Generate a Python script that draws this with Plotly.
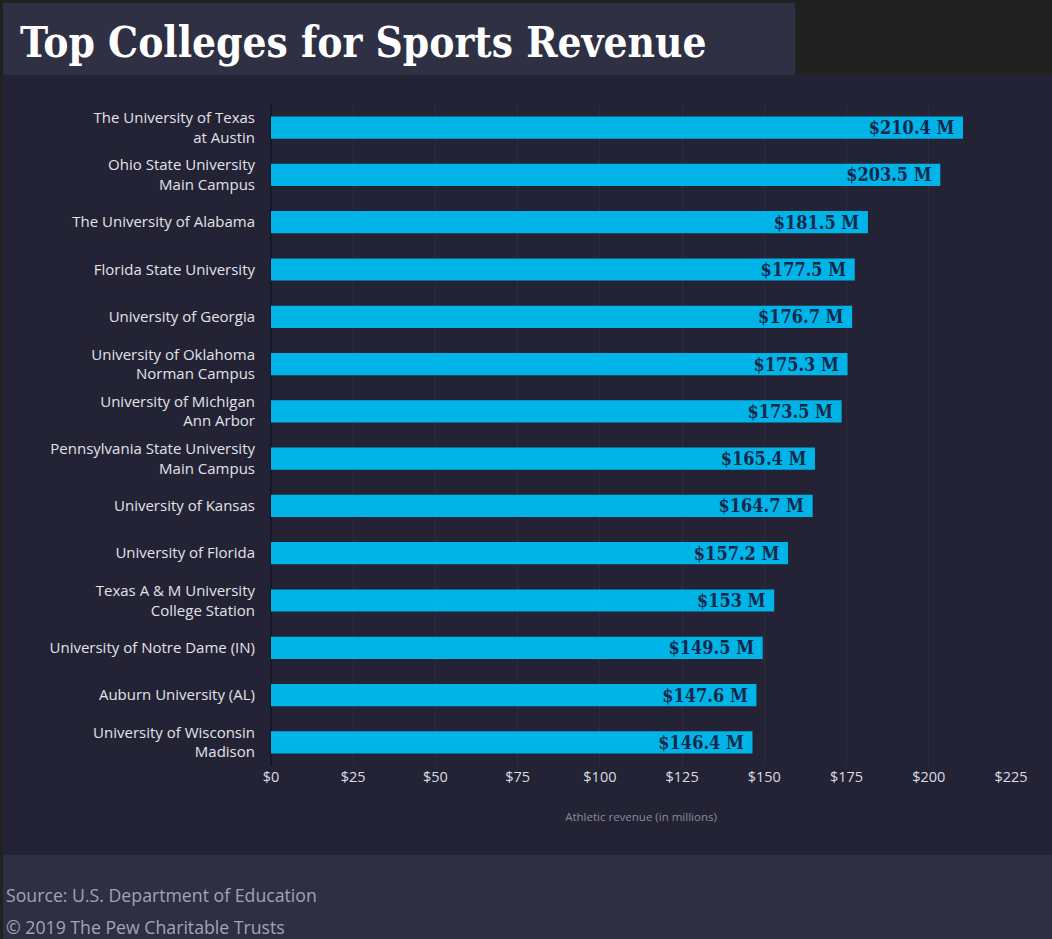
import plotly.graph_objects as go

colleges = [
    "The University of Texas<br>at Austin",
    "Ohio State University<br>Main Campus",
    "The University of Alabama",
    "Florida State University",
    "University of Georgia",
    "University of Oklahoma<br>Norman Campus",
    "University of Michigan<br>Ann Arbor",
    "Pennsylvania State University<br>Main Campus",
    "University of Kansas",
    "University of Florida",
    "Texas A & M University<br>College Station",
    "University of Notre Dame (IN)",
    "Auburn University (AL)",
    "University of Wisconsin<br>Madison",
]
revenue = [210.4, 203.5, 181.5, 177.5, 176.7, 175.3, 173.5, 165.4, 164.7, 157.2, 153, 149.5, 147.6, 146.4]
tick_values = [0, 25, 50, 75, 100, 125, 150, 175, 200, 225]
tick_labels = ["$" + str(v) for v in tick_values]
bar_labels = ["$" + f"{v:g}" + " M\u00a0" for v in revenue]

W, H = 1052, 939
L, R, T, B = 271, 41, 104, 173
PW, PH = W - L - R, H - T - B

def px_x(p):
    return (p - L) / PW

def px_y(p):
    return 1 - (p - T) / PH

fig = go.Figure(go.Bar(
    x=revenue, y=colleges, orientation="h",
    marker=dict(color="#00b4e8", line=dict(width=0)),
    width=0.47,
    text=bar_labels, textposition="inside", insidetextanchor="end",
    constraintext="none",
    textfont=dict(family="DejaVu Serif Condensed, DejaVu Serif", size=18, color="#16284a", weight="bold"),
    cliponaxis=False,
    hoverinfo="skip",
))

shapes = [
    dict(type="rect", xref="paper", yref="paper", x0=px_x(3), x1=px_x(W), y0=px_y(75), y1=px_y(855),
         fillcolor="#232335", line=dict(width=0), layer="below"),
    dict(type="rect", xref="paper", yref="paper", x0=px_x(3), x1=px_x(795), y0=px_y(3), y1=px_y(75),
         fillcolor="#2f3043", line=dict(width=0), layer="below"),
    dict(type="rect", xref="paper", yref="paper", x0=px_x(3), x1=px_x(W), y0=px_y(855), y1=px_y(H),
         fillcolor="#2e2f42", line=dict(width=0), layer="below"),
]

annotations = [
    dict(text="<b>Top Colleges for Sports Revenue</b>", xref="paper", yref="paper",
         x=px_x(18), y=px_y(42), xanchor="left", yanchor="middle", showarrow=False,
         font=dict(family="DejaVu Serif Condensed, DejaVu Serif", size=42, color="#ffffff")),
    dict(text="Source: U.S. Department of Education", xref="paper", yref="paper",
         x=px_x(4), y=px_y(895), xanchor="left", yanchor="middle", showarrow=False,
         font=dict(family="Open Sans", size=17.7, color="#a3a4b4")),
    dict(text="© 2019 The Pew Charitable Trusts", xref="paper", yref="paper",
         x=px_x(4), y=px_y(927), xanchor="left", yanchor="middle", showarrow=False,
         font=dict(family="Open Sans", size=17.7, color="#a3a4b4")),
]

fig.update_layout(
    width=W, height=H, autosize=False,
    margin=dict(l=L, r=R, t=T, b=B, pad=0),
    paper_bgcolor="#212121", plot_bgcolor="rgba(0,0,0,0)",
    showlegend=False, bargap=0.53,
    shapes=shapes, annotations=annotations,
    xaxis=dict(
        range=[0, 225], tickvals=tick_values, ticktext=tick_labels,
        showgrid=True, gridcolor="#2c2d41", gridwidth=1,
        zeroline=True, zerolinecolor="#18182a", zerolinewidth=2,
        showline=False, ticks="",
        tickfont=dict(family="Open Sans", size=14.5, color="#dcdce2"),
        title=dict(text="Athletic revenue (in millions)", standoff=28,
                   font=dict(family="Open Sans", size=11.5, color="#8a8b9a")),
        fixedrange=True,
    ),
    yaxis=dict(
        autorange="reversed", showgrid=False, zeroline=False, ticks="",
        tickfont=dict(family="Open Sans", size=15, color="#e2e2e8"),
        ticklabelstandoff=15, fixedrange=True,
    ),
)

fig.write_html(
    "out.html",
    config={"displayModeBar": False},
    post_script="document.body.style.margin='0px';document.body.style.background='#212121';",
)
